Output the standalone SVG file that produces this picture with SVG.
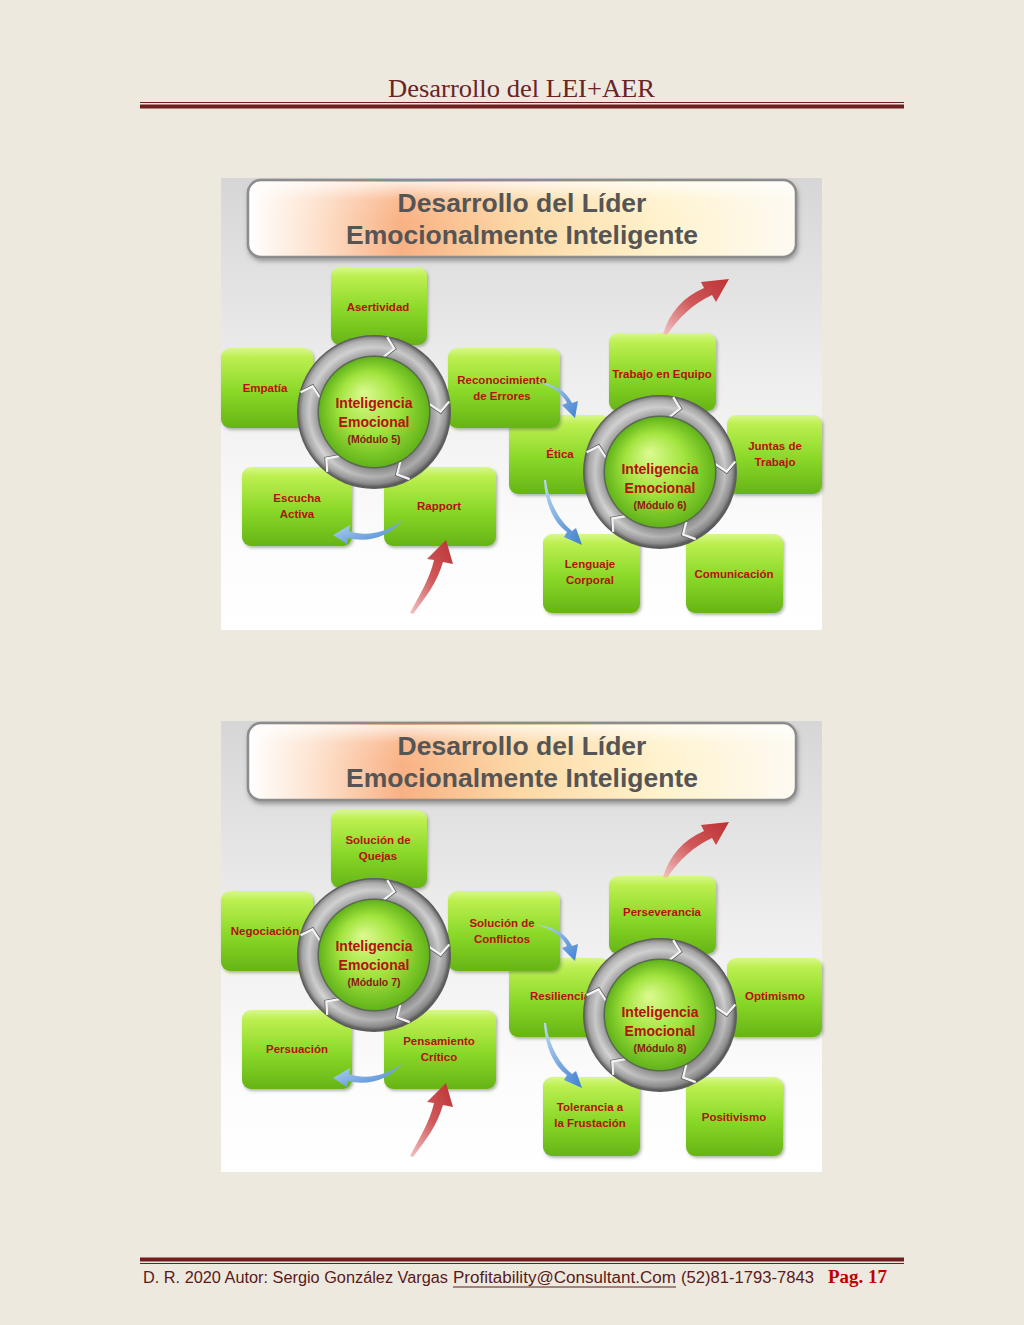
<svg xmlns="http://www.w3.org/2000/svg" width="1024" height="1325" viewBox="0 0 1024 1325">
<style>
.hdr{font-family:"Liberation Serif","DejaVu Serif",serif;font-size:25px;fill:#6b2424}
.ft{font-family:"Liberation Sans","DejaVu Sans",sans-serif;font-size:16px;fill:#5a1a1a}
.pg{font-family:"Liberation Serif","DejaVu Serif",serif;font-size:18px;font-weight:bold;fill:#c00000}
.ttl{font-family:"Liberation Sans","Arial",sans-serif;font-size:26.5px;font-weight:bold;fill:#555555;text-anchor:middle}
.nt{font-family:"Liberation Sans","Arial",sans-serif;font-size:11.5px;font-weight:bold;fill:#b3120c;text-anchor:middle}
.ct{font-family:"Liberation Sans","Arial",sans-serif;font-size:14px;font-weight:bold;fill:#b3120c;text-anchor:middle}
.cm{font-family:"Liberation Sans","Arial",sans-serif;font-size:10.5px;font-weight:bold;fill:#8a1a10;text-anchor:middle}
.box{fill:url(#boxg);filter:url(#sh)}
.rl{stroke:#6e1e1e;fill:none}
.chev{fill:none;stroke:#f4f4f4;stroke-width:2.2}
.chevd{fill:none;stroke:#5a5a5a;stroke-width:1.4}
.red{fill:url(#redg)}
.blue{fill:url(#blueg)}
</style>
<defs>
<linearGradient id="panelg" x1="0" y1="0" x2="0" y2="1">
<stop offset="0" stop-color="#d6d6d6"/>
<stop offset="0.45" stop-color="#eeeeee"/>
<stop offset="0.8" stop-color="#fcfcfc"/>
<stop offset="1" stop-color="#ffffff"/>
</linearGradient>
<linearGradient id="bannerg" x1="0" y1="0" x2="1" y2="0">
<stop offset="0" stop-color="#ffffff"/>
<stop offset="0.12" stop-color="#fde3cf"/>
<stop offset="0.28" stop-color="#f9b184"/>
<stop offset="0.5" stop-color="#fcd9a6"/>
<stop offset="0.75" stop-color="#fff2cc"/>
<stop offset="1" stop-color="#fdfaf2"/>
</linearGradient>
<linearGradient id="bannerhl" x1="0" y1="0" x2="0" y2="1">
<stop offset="0" stop-color="#ffffff" stop-opacity="0.75"/>
<stop offset="0.45" stop-color="#ffffff" stop-opacity="0.1"/>
<stop offset="1" stop-color="#ffffff" stop-opacity="0"/>
</linearGradient>
<linearGradient id="boxg" x1="0" y1="0" x2="0" y2="1">
<stop offset="0" stop-color="#d8f88a"/>
<stop offset="0.12" stop-color="#bcef50"/>
<stop offset="0.55" stop-color="#8ad828"/>
<stop offset="1" stop-color="#66b416"/>
</linearGradient>
<radialGradient id="greeng" cx="0.5" cy="0.5" r="0.5" fx="0.4" fy="0.32">
<stop offset="0" stop-color="#dcfa90"/>
<stop offset="0.55" stop-color="#a2e43e"/>
<stop offset="1" stop-color="#62b41a"/>
</radialGradient>
<radialGradient id="ringg" cx="0.5" cy="0.5" r="0.5">
<stop offset="0.7" stop-color="#787878"/>
<stop offset="0.76" stop-color="#a6a6a6"/>
<stop offset="0.86" stop-color="#d6d6d6"/>
<stop offset="0.95" stop-color="#aaaaaa"/>
<stop offset="1" stop-color="#6a6a6a"/>
</radialGradient>
<linearGradient id="ringshade" x1="0.2" y1="0" x2="0.8" y2="1">
<stop offset="0" stop-color="#ffffff" stop-opacity="0.3"/>
<stop offset="0.55" stop-color="#000000" stop-opacity="0"/>
<stop offset="1" stop-color="#000000" stop-opacity="0.28"/>
</linearGradient>
<linearGradient id="redg" x1="0" y1="1" x2="1" y2="0">
<stop offset="0" stop-color="#f2c4c4"/>
<stop offset="0.5" stop-color="#d0585a"/>
<stop offset="1" stop-color="#bb3234"/>
</linearGradient>
<linearGradient id="blueg" x1="0" y1="0" x2="1" y2="1">
<stop offset="0" stop-color="#bcd8f4"/>
<stop offset="1" stop-color="#3f80cf"/>
</linearGradient>
<filter id="sh" x="-10%" y="-10%" width="130%" height="130%">
<feDropShadow dx="1.5" dy="2" stdDeviation="1.5" flood-color="#556644" flood-opacity="0.45"/>
</filter>
<filter id="sh2" x="-10%" y="-10%" width="130%" height="140%">
<feDropShadow dx="1" dy="3" stdDeviation="2" flood-color="#555555" flood-opacity="0.5"/>
</filter>
<g id="ring">
<circle r="77" fill="#5e5e5e"/>
<circle r="75.5" fill="url(#ringg)"/>
<circle r="75.5" fill="url(#ringshade)"/>
<g transform="rotate(-80)"><path class="chevd" d="M56 1.5 L66 10.5 L76 1.5"/><path class="chev" d="M56 0 L66 9 L76 0"/></g>
<g transform="rotate(-8)"><path class="chevd" d="M56 1.5 L66 10.5 L76 1.5"/><path class="chev" d="M56 0 L66 9 L76 0"/></g>
<g transform="rotate(62)"><path class="chevd" d="M56 1.5 L66 10.5 L76 1.5"/><path class="chev" d="M56 0 L66 9 L76 0"/></g>
<g transform="rotate(128)"><path class="chevd" d="M56 1.5 L66 10.5 L76 1.5"/><path class="chev" d="M56 0 L66 9 L76 0"/></g>
<g transform="rotate(195)"><path class="chevd" d="M56 1.5 L66 10.5 L76 1.5"/><path class="chev" d="M56 0 L66 9 L76 0"/></g>
<circle r="56.5" fill="#5a6a50"/>
<circle r="55" fill="url(#greeng)"/>
</g>
</defs>

<rect width="1024" height="1325" fill="#ede9df"/>

<g id="header">
<text class="hdr" x="388" y="97" textLength="267" lengthAdjust="spacingAndGlyphs">Desarrollo del LEI+AER</text>
<line class="rl" x1="140" y1="102.5" x2="904" y2="102.5" stroke-width="1"/>
<line class="rl" x1="140" y1="106.5" x2="904" y2="106.5" stroke-width="4"/>
</g>

<g id="footer">
<line class="rl" x1="140" y1="1259.5" x2="904" y2="1259.5" stroke-width="4"/>
<line class="rl" x1="140" y1="1263.5" x2="904" y2="1263.5" stroke-width="1"/>
<text class="ft" x="143" y="1283" textLength="305" lengthAdjust="spacingAndGlyphs">D. R. 2020 Autor: Sergio González Vargas</text>
<text class="ft" x="453" y="1283" textLength="223" lengthAdjust="spacingAndGlyphs">Profitability@Consultant.Com</text>
<line x1="453" y1="1287" x2="676" y2="1287" stroke="#5a1a1a" stroke-width="1"/>
<text class="ft" x="681" y="1283" textLength="133" lengthAdjust="spacingAndGlyphs">(52)81-1793-7843</text>
<text class="pg" x="828" y="1283" textLength="59" lengthAdjust="spacingAndGlyphs">Pag. 17</text>
</g>

<!-- ================= DIAGRAM 1 ================= -->
<g id="diagram1">
<rect x="221" y="178" width="601" height="452" fill="url(#panelg)"/>
<g id="d1-title">
<rect x="248" y="180" width="548" height="77" rx="13" fill="url(#bannerg)" stroke="#8c8c8c" stroke-width="2.5" filter="url(#sh2)"/>
<rect x="250" y="182" width="544" height="40" rx="12" fill="url(#bannerhl)"/>
<text class="ttl" x="522" y="212">Desarrollo del Líder</text>
<text class="ttl" x="522" y="244">Emocionalmente Inteligente</text>
</g>

<!-- right cluster -->
<g id="d1-trabajo-equipo"><rect class="box" x="609" y="333" width="107" height="78" rx="9"/><text class="nt" x="662" y="378">Trabajo en Equipo</text></g>
<g id="d1-etica"><rect class="box" x="509" y="415" width="101" height="79" rx="9"/><text class="nt" x="560" y="458">Ética</text></g>
<g id="d1-juntas"><rect class="box" x="727" y="415" width="95" height="79" rx="9"/><text class="nt" x="775" y="450">Juntas de</text><text class="nt" x="775" y="466">Trabajo</text></g>
<g id="d1-lenguaje"><rect class="box" x="543" y="534" width="97" height="79" rx="9"/><text class="nt" x="590" y="568">Lenguaje</text><text class="nt" x="590" y="584">Corporal</text></g>
<g id="d1-comunicacion"><rect class="box" x="686" y="534" width="97" height="79" rx="9"/><text class="nt" x="734" y="578">Comunicación</text></g>
<g id="d1-modulo6">
<use href="#ring" x="660" y="472"/>
<text class="ct" x="660" y="474">Inteligencia</text>
<text class="ct" x="660" y="493">Emocional</text>
<text class="cm" x="660" y="509">(Módulo  6)</text>
</g>

<!-- left cluster -->
<g id="d1-asertividad"><rect class="box" x="331" y="267" width="96" height="78" rx="9"/><text class="nt" x="378" y="311">Asertividad</text></g>
<g id="d1-empatia"><rect class="box" x="221" y="348" width="92" height="80" rx="9"/><text class="nt" x="265" y="392">Empatía</text></g>
<g id="d1-reconocimiento"><rect class="box" x="448" y="348" width="112" height="80" rx="9"/><text class="nt" x="502" y="384">Reconocimiento</text><text class="nt" x="502" y="400">de Errores</text></g>
<g id="d1-escucha"><rect class="box" x="242" y="467" width="110" height="79" rx="9"/><text class="nt" x="297" y="502">Escucha</text><text class="nt" x="297" y="518">Activa</text></g>
<g id="d1-rapport"><rect class="box" x="384" y="467" width="112" height="79" rx="9"/><text class="nt" x="439" y="510">Rapport</text></g>
<g id="d1-modulo5">
<use href="#ring" x="374" y="412"/>
<text class="ct" x="374" y="408">Inteligencia</text>
<text class="ct" x="374" y="427">Emocional</text>
<text class="cm" x="374" y="443">(Módulo  5)</text>
</g>

<g id="d1-connectors">
<path class="red" d="M663 334 C670 312 683 297 704 288 L701 282 L729 279 L716 302 L712 295 C693 304 679 317 667 335 Z"/>
<path class="red" d="M410 613 C420 594 430 578 434 560 L427 559 L446 540 L453 564 L443 562 C437 583 425 598 413 614 Z"/>
<path class="blue" d="M403 520 C386 533 366 537 349 531 L350 525 L333 535 L347 544 L348 538 C368 543 389 537 403 520 Z"/>
<path class="blue" d="M536 382 C551 385 562 393 567 403 L562 405 L575 418 L578 401 L572 403 C566 391 554 383 536 382 Z"/>
<path class="blue" d="M544 480 C545 505 555 524 567 532 L564 537 L582 545 L576 528 L572 531 C560 521 549 504 546 480 Z"/>
</g>
</g>

<!-- ================= DIAGRAM 2 ================= -->
<g id="diagram2" transform="translate(0,543)">
<rect x="221" y="178" width="601" height="451" fill="url(#panelg)"/>
<g id="d2-title">
<rect x="248" y="180" width="548" height="77" rx="13" fill="url(#bannerg)" stroke="#8c8c8c" stroke-width="2.5" filter="url(#sh2)"/>
<rect x="250" y="182" width="544" height="40" rx="12" fill="url(#bannerhl)"/>
<text class="ttl" x="522" y="212">Desarrollo del Líder</text>
<text class="ttl" x="522" y="244">Emocionalmente Inteligente</text>
</g>

<!-- right cluster -->
<g id="d2-perseverancia"><rect class="box" x="609" y="333" width="107" height="78" rx="9"/><text class="nt" x="662" y="373">Perseverancia</text></g>
<g id="d2-resiliencia"><rect class="box" x="509" y="415" width="101" height="79" rx="9"/><text class="nt" x="560" y="457">Resiliencia</text></g>
<g id="d2-optimismo"><rect class="box" x="727" y="415" width="95" height="79" rx="9"/><text class="nt" x="775" y="457">Optimismo</text></g>
<g id="d2-tolerancia"><rect class="box" x="543" y="534" width="97" height="79" rx="9"/><text class="nt" x="590" y="568">Tolerancia a</text><text class="nt" x="590" y="584">la Frustación</text></g>
<g id="d2-positivismo"><rect class="box" x="686" y="534" width="97" height="79" rx="9"/><text class="nt" x="734" y="578">Positivismo</text></g>
<g id="d2-modulo8">
<use href="#ring" x="660" y="472"/>
<text class="ct" x="660" y="474">Inteligencia</text>
<text class="ct" x="660" y="493">Emocional</text>
<text class="cm" x="660" y="509">(Módulo  8)</text>
</g>

<!-- left cluster -->
<g id="d2-quejas"><rect class="box" x="331" y="267" width="96" height="78" rx="9"/><text class="nt" x="378" y="301">Solución de</text><text class="nt" x="378" y="317">Quejas</text></g>
<g id="d2-negociacion"><rect class="box" x="221" y="348" width="92" height="80" rx="9"/><text class="nt" x="265" y="392">Negociación</text></g>
<g id="d2-conflictos"><rect class="box" x="448" y="348" width="112" height="80" rx="9"/><text class="nt" x="502" y="384">Solución de</text><text class="nt" x="502" y="400">Conflictos</text></g>
<g id="d2-persuacion"><rect class="box" x="242" y="467" width="110" height="79" rx="9"/><text class="nt" x="297" y="510">Persuación</text></g>
<g id="d2-pensamiento"><rect class="box" x="384" y="467" width="112" height="79" rx="9"/><text class="nt" x="439" y="502">Pensamiento</text><text class="nt" x="439" y="518">Crítico</text></g>
<g id="d2-modulo7">
<use href="#ring" x="374" y="412"/>
<text class="ct" x="374" y="408">Inteligencia</text>
<text class="ct" x="374" y="427">Emocional</text>
<text class="cm" x="374" y="443">(Módulo  7)</text>
</g>

<g id="d2-connectors">
<path class="red" d="M663 334 C670 312 683 297 704 288 L701 282 L729 279 L716 302 L712 295 C693 304 679 317 667 335 Z"/>
<path class="red" d="M410 613 C420 594 430 578 434 560 L427 559 L446 540 L453 564 L443 562 C437 583 425 598 413 614 Z"/>
<path class="blue" d="M403 520 C386 533 366 537 349 531 L350 525 L333 535 L347 544 L348 538 C368 543 389 537 403 520 Z"/>
<path class="blue" d="M536 382 C551 385 562 393 567 403 L562 405 L575 418 L578 401 L572 403 C566 391 554 383 536 382 Z"/>
<path class="blue" d="M544 480 C545 505 555 524 567 532 L564 537 L582 545 L576 528 L572 531 C560 521 549 504 546 480 Z"/>
</g>
</g>
</svg>
